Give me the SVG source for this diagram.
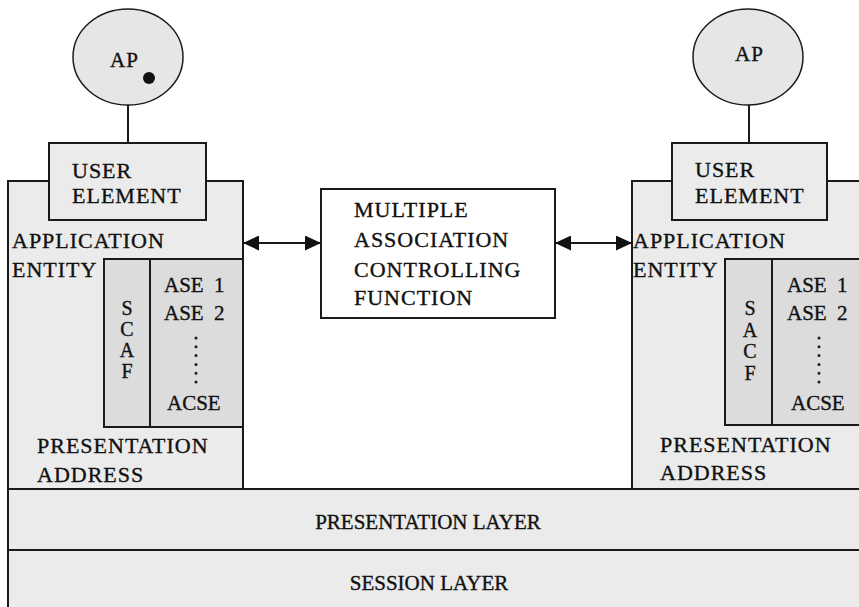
<svg xmlns="http://www.w3.org/2000/svg" width="859" height="607" viewBox="0 0 859 607">
<defs>
<style>
text{font-family:"Liberation Serif","Times New Roman",serif;fill:#111;stroke:#111;stroke-width:0.35}
.t{font-size:22px;letter-spacing:1px}
.s{font-size:21px;word-spacing:5px}
.v{font-size:20px;text-anchor:middle}
.l{font-size:21px;text-anchor:middle}
.box{fill:#ebebeb;stroke:#1a1a1a;stroke-width:2}
.inner{fill:#dcdcdc;stroke:#1a1a1a;stroke-width:2}
.ap{fill:#e6e6e6;stroke:#1a1a1a;stroke-width:1.5}
.wire{stroke:#1a1a1a;stroke-width:2;fill:none}
.dots{stroke:#1a1a1a;stroke-width:3;stroke-linecap:round;stroke-dasharray:0 8.8}
</style>
<marker id="ah" markerWidth="16" markerHeight="15" refX="16" refY="7.5" orient="auto-start-reverse" markerUnits="userSpaceOnUse">
<path d="M0,0 L16,7.5 L0,15 z" fill="#111"/>
</marker>
</defs>
<rect width="859" height="607" fill="#fff"/>

<g id="session-layer">
<rect class="box" x="8" y="550" width="870" height="70"/>
<text class="l" x="429" y="590">SESSION LAYER</text>
</g>
<g id="presentation-layer">
<rect class="box" x="8" y="489" width="870" height="61"/>
<text class="l" x="428" y="529">PRESENTATION LAYER</text>
</g>

<g id="ae-left">
<rect class="box" x="8" y="181" width="235" height="308"/>
<text class="t" x="12" y="248">APPLICATION</text>
<text class="t" x="12" y="277">ENTITY</text>
<text class="t" x="37" y="453">PRESENTATION</text>
<text class="t" x="37" y="482">ADDRESS</text>
</g>
<g id="scaf-left">
<rect class="inner" x="104" y="259" width="46" height="168"/>
<text class="v" x="127" y="315">S</text>
<text class="v" x="127" y="336">C</text>
<text class="v" x="127" y="357">A</text>
<text class="v" x="127" y="378">F</text>
</g>
<g id="ase-left">
<rect class="inner" x="150" y="259" width="93" height="168"/>
<text class="s" x="164" y="292">ASE 1</text>
<text class="s" x="164" y="320">ASE 2</text>
<line class="dots" x1="196" y1="338" x2="196" y2="383"/>
<text class="s" x="167" y="410">ACSE</text>
</g>
<g id="ue-left">
<rect class="box" x="49" y="143" width="157" height="77"/>
<text class="t" x="72" y="178">USER</text>
<text class="t" x="72" y="203">ELEMENT</text>
</g>
<g id="ap-left">
<ellipse class="ap" cx="128" cy="57" rx="55" ry="48"/>
<text class="t" x="110" y="67" style="font-size:21px">AP</text>
<circle cx="149" cy="78" r="6" fill="#111"/>
</g>

<g id="ae-right">
<rect class="box" x="632" y="181" width="240" height="308"/>
<text class="t" x="633" y="248">APPLICATION</text>
<text class="t" x="633" y="277">ENTITY</text>
<text class="t" x="660" y="452">PRESENTATION</text>
<text class="t" x="660" y="480">ADDRESS</text>
</g>
<g id="sacf-right">
<rect class="inner" x="725" y="259" width="47" height="166"/>
<text class="v" x="750" y="315">S</text>
<text class="v" x="750" y="337">A</text>
<text class="v" x="750" y="358">C</text>
<text class="v" x="750" y="380">F</text>
</g>
<g id="ase-right">
<rect class="inner" x="772" y="259" width="100" height="166"/>
<text class="s" x="787" y="292">ASE 1</text>
<text class="s" x="787" y="320">ASE 2</text>
<line class="dots" x1="819" y1="338" x2="819" y2="383"/>
<text class="s" x="791" y="410">ACSE</text>
</g>
<g id="ue-right">
<rect class="box" x="672" y="143" width="155" height="77"/>
<text class="t" x="695" y="177">USER</text>
<text class="t" x="695" y="203">ELEMENT</text>
</g>
<g id="ap-right">
<ellipse class="ap" cx="748" cy="57" rx="55" ry="48"/>
<text class="t" x="735" y="61" style="font-size:21px">AP</text>
</g>

<g id="macf">
<rect x="321" y="189" width="234" height="129" fill="#fff" stroke="#1a1a1a" stroke-width="2"/>
<text class="t" x="354" y="217">MULTIPLE</text>
<text class="t" x="354" y="247">ASSOCIATION</text>
<text class="t" x="354" y="277">CONTROLLING</text>
<text class="t" x="354" y="305">FUNCTION</text>
</g>

<g id="connectors">
<line class="wire" x1="128" y1="105" x2="128" y2="143"/>
<line class="wire" x1="749" y1="105" x2="749" y2="143"/>
<line class="wire" x1="243" y1="243" x2="321" y2="243" marker-start="url(#ah)" marker-end="url(#ah)"/>
<line class="wire" x1="555" y1="243" x2="632" y2="243" marker-start="url(#ah)" marker-end="url(#ah)"/>
</g>
</svg>
